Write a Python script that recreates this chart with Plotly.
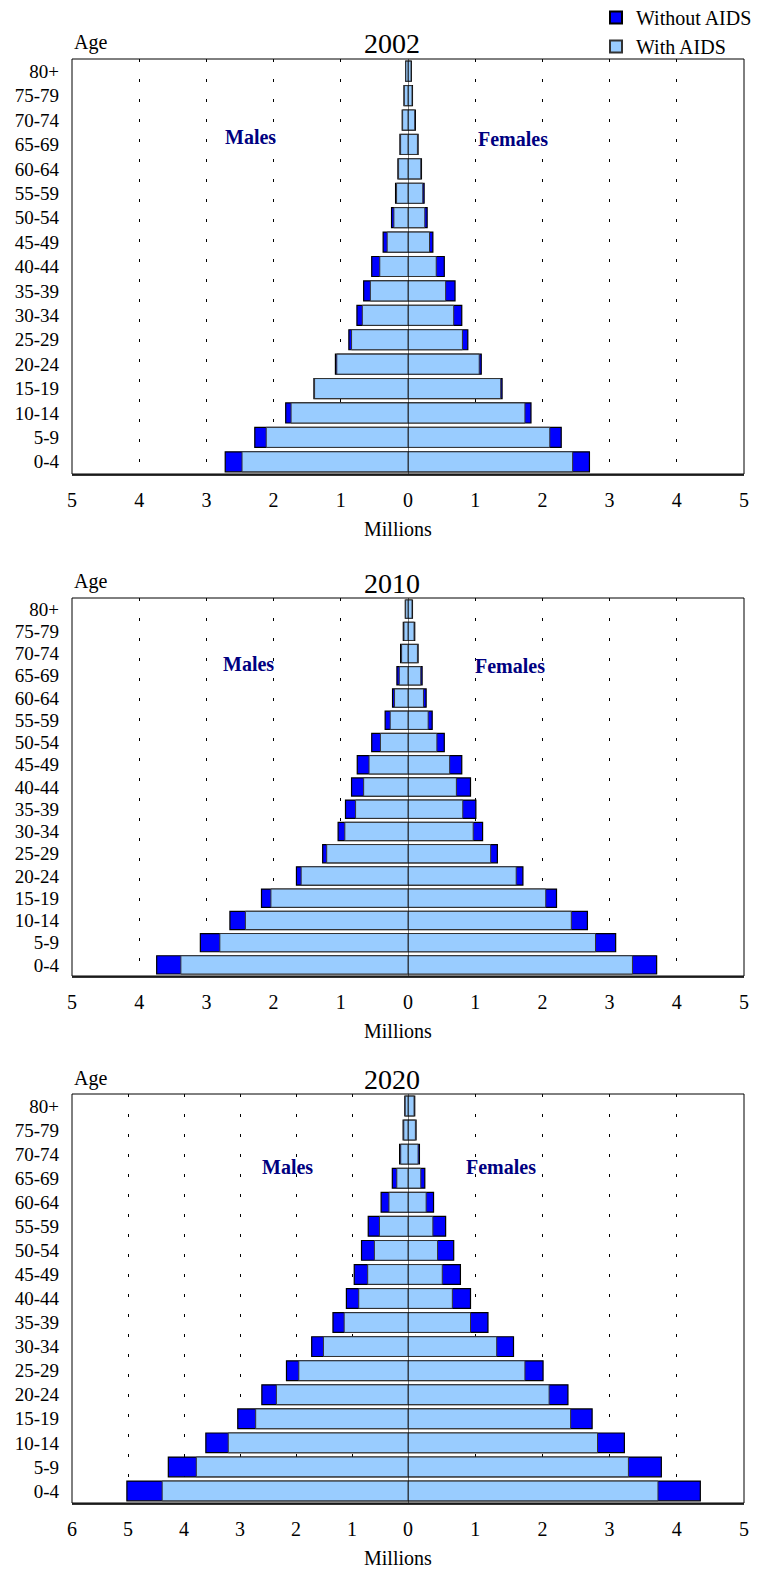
import plotly.graph_objects as go

W, H = 764, 1570

ages = ["0-4", "5-9", "10-14", "15-19", "20-24", "25-29", "30-34", "35-39", "40-44",
        "45-49", "50-54", "55-59", "60-64", "65-69", "70-74", "75-79", "80+"]

years = ["2002", "2010", "2020"]

# 2002 (millions), order 0-4 ... 80+
m2002_without = [2.72, 2.28, 1.82, 1.40, 1.08, 0.88, 0.76, 0.66, 0.54, 0.37, 0.245, 0.185, 0.15, 0.12, 0.086, 0.06, 0.035]
m2002_with    = [2.47, 2.11, 1.74, 1.39, 1.06, 0.84, 0.68, 0.56, 0.42, 0.31, 0.21, 0.17, 0.14, 0.11, 0.08, 0.055, 0.033]
f2002_without = [2.70, 2.28, 1.83, 1.40, 1.09, 0.89, 0.80, 0.70, 0.54, 0.37, 0.285, 0.24, 0.20, 0.15, 0.11, 0.066, 0.05]
f2002_with    = [2.45, 2.11, 1.74, 1.38, 1.06, 0.81, 0.68, 0.56, 0.42, 0.32, 0.25, 0.22, 0.19, 0.14, 0.10, 0.06, 0.045]

# 2010
m2010_without = [3.74, 3.09, 2.65, 2.18, 1.66, 1.27, 1.04, 0.93, 0.84, 0.755, 0.54, 0.34, 0.23, 0.165, 0.11, 0.07, 0.04]
m2010_with    = [3.38, 2.80, 2.42, 2.04, 1.59, 1.21, 0.94, 0.78, 0.66, 0.58, 0.41, 0.265, 0.20, 0.13, 0.095, 0.06, 0.035]
f2010_without = [3.70, 3.09, 2.67, 2.21, 1.71, 1.33, 1.11, 1.01, 0.93, 0.80, 0.54, 0.36, 0.27, 0.21, 0.15, 0.10, 0.066]
f2010_with    = [3.34, 2.79, 2.43, 2.05, 1.61, 1.23, 0.97, 0.815, 0.72, 0.62, 0.43, 0.30, 0.23, 0.19, 0.14, 0.09, 0.06]

# 2020
m2020_without = [5.02, 4.28, 3.61, 3.04, 2.61, 2.17, 1.72, 1.34, 1.10, 0.96, 0.83, 0.71, 0.48, 0.28, 0.15, 0.087, 0.056]
m2020_with    = [4.39, 3.78, 3.21, 2.72, 2.35, 1.95, 1.51, 1.14, 0.88, 0.72, 0.60, 0.51, 0.34, 0.20, 0.13, 0.075, 0.05]
f2020_without = [4.35, 3.77, 3.22, 2.74, 2.38, 2.01, 1.57, 1.19, 0.93, 0.78, 0.68, 0.56, 0.38, 0.25, 0.17, 0.12, 0.10]
f2020_with    = [3.72, 3.28, 2.82, 2.42, 2.10, 1.74, 1.32, 0.93, 0.66, 0.51, 0.44, 0.37, 0.27, 0.19, 0.15, 0.11, 0.09]

male_max = [5, 5, 6]
female_max = [5, 5, 5]

panels = [
    (m2002_without, m2002_with, f2002_without, f2002_with),
    (m2010_without, m2010_with, f2010_without, f2010_with),
    (m2020_without, m2020_with, f2020_without, f2020_with),
]

# layout geometry (reference pixels)
LEFT, CENTER, RIGHT = 72, 408, 744
tops = [59, 598, 1094]
bottoms = [474, 976, 1503]
males_pos = [(250, 137), (248, 664), (287, 1167)]
females_pos = [(513, 139), (510, 666), (501, 1167)]

def px(x):
    return x / W

def py(y):
    return 1 - y / H

FONT = "Liberation Serif"
DARK = "#0000FF"
LIGHT = "#99CCFF"
NAVY = "#000080"

fig = go.Figure()
annotations = []
shapes = []
layout_axes = {}

for i, (mw, mwa, fw, fwa) in enumerate(panels):
    xm = f"x{2*i+1}" if i > 0 else "x"
    xf = f"x{2*i+2}"
    yy = f"y{i+1}" if i > 0 else "y"
    show = (i == 0)
    common = dict(orientation="h", y=ages, yaxis=yy, width=0.82)
    fig.add_trace(go.Bar(x=mw, xaxis=xm, name="Without AIDS", legendgroup="wo", showlegend=show,
                         marker=dict(color=DARK, line=dict(color="black", width=1.2)), **common))
    fig.add_trace(go.Bar(x=fw, xaxis=xf, name="Without AIDS", legendgroup="wo", showlegend=False,
                         marker=dict(color=DARK, line=dict(color="black", width=1.2)), **common))
    fig.add_trace(go.Bar(x=mwa, xaxis=xm, name="With AIDS", legendgroup="w", showlegend=show,
                         marker=dict(color=LIGHT, line=dict(color="#333333", width=1)), **common))
    fig.add_trace(go.Bar(x=fwa, xaxis=xf, name="With AIDS", legendgroup="w", showlegend=False,
                         marker=dict(color=LIGHT, line=dict(color="#333333", width=1)), **common))

    ydom = [py(bottoms[i]), py(tops[i])]
    axis_common = dict(
        showgrid=True, gridcolor="black", gridwidth=1, griddash="3px,17px",
        zeroline=False, showline=True, linecolor="#333333", linewidth=2,
        ticks="", ticklabelstandoff=7,
        tickfont=dict(family=FONT, size=20, color="black"), fixedrange=True,
    )
    mname = "xaxis" if i == 0 else f"xaxis{2*i+1}"
    fname = f"xaxis{2*i+2}"
    yname = "yaxis" if i == 0 else f"yaxis{i+1}"
    mt = list(range(0, male_max[i] + 1))
    ft = list(range(1, female_max[i] + 1))
    layout_axes[mname] = dict(domain=[px(LEFT), px(CENTER)], range=[male_max[i], 0], anchor=yy,
                              tickmode="array", tickvals=mt, ticktext=[str(v) for v in mt], **axis_common)
    layout_axes[fname] = dict(domain=[px(CENTER), px(RIGHT)], range=[0, female_max[i]], anchor=yy,
                              tickmode="array", tickvals=ft, ticktext=[str(v) for v in ft], **axis_common)
    layout_axes[yname] = dict(domain=ydom, anchor=xm, type="category", categoryorder="array",
                              categoryarray=ages, range=[-0.5, len(ages) - 0.5],
                              tickmode="array", tickvals=ages, ticktext=ages,
                              showgrid=False, zeroline=False, showline=False, ticks="",
                              ticklabelstandoff=12,
                              tickfont=dict(family=FONT, size=19, color="black"), fixedrange=True)

    # frame and centre line
    shapes.append(dict(type="rect", xref="paper", yref="paper", x0=px(LEFT), x1=px(RIGHT),
                       y0=ydom[0], y1=ydom[1], line=dict(color="black", width=1), layer="above"))
    shapes.append(dict(type="line", xref=xf, yref=f"{yy} domain", x0=0, x1=0, y0=0, y1=1,
                       line=dict(color="black", width=1), layer="above"))

    annotations.append(dict(text="Age", x=px(72), y=py(tops[i] - 16), xref="paper", yref="paper",
                            xanchor="left", yanchor="middle", showarrow=False,
                            font=dict(family=FONT, size=20, color="black")))
    annotations.append(dict(text=years[i], x=px(392), y=py(tops[i] - 15), xref="paper", yref="paper",
                            xanchor="center", yanchor="middle", showarrow=False,
                            font=dict(family=FONT, size=28, color="black")))
    annotations.append(dict(text="<b>Males</b>", x=px(males_pos[i][0]), y=py(males_pos[i][1]),
                            xref="paper", yref="paper", xanchor="center", yanchor="middle",
                            showarrow=False, font=dict(family=FONT, size=20, color=NAVY)))
    annotations.append(dict(text="<b>Females</b>", x=px(females_pos[i][0]), y=py(females_pos[i][1]),
                            xref="paper", yref="paper", xanchor="center", yanchor="middle",
                            showarrow=False, font=dict(family=FONT, size=20, color=NAVY)))
    annotations.append(dict(text="Millions", x=px(398), y=py(bottoms[i] + 55), xref="paper", yref="paper",
                            xanchor="center", yanchor="middle", showarrow=False,
                            font=dict(family=FONT, size=20, color="black")))

fig.update_layout(
    width=W, height=H, template="none",
    margin=dict(l=0, r=0, t=0, b=0, autoexpand=False),
    paper_bgcolor="white", plot_bgcolor="white",
    barmode="overlay", bargap=0.18,
    font=dict(family=FONT, size=20, color="black"),
    showlegend=True,
    legend=dict(x=px(596), y=py(-2), xanchor="left", yanchor="top", bgcolor="rgba(0,0,0,0)",
                font=dict(family=FONT, size=20, color="black"), traceorder="normal",
                tracegroupgap=0, itemsizing="constant"),
    annotations=annotations, shapes=shapes,
    **layout_axes,
)

fig.write_html(
    "out.html",
    config={"displayModeBar": False},
    post_script="document.body.style.margin='0px';document.body.style.overflow='hidden';",
)
